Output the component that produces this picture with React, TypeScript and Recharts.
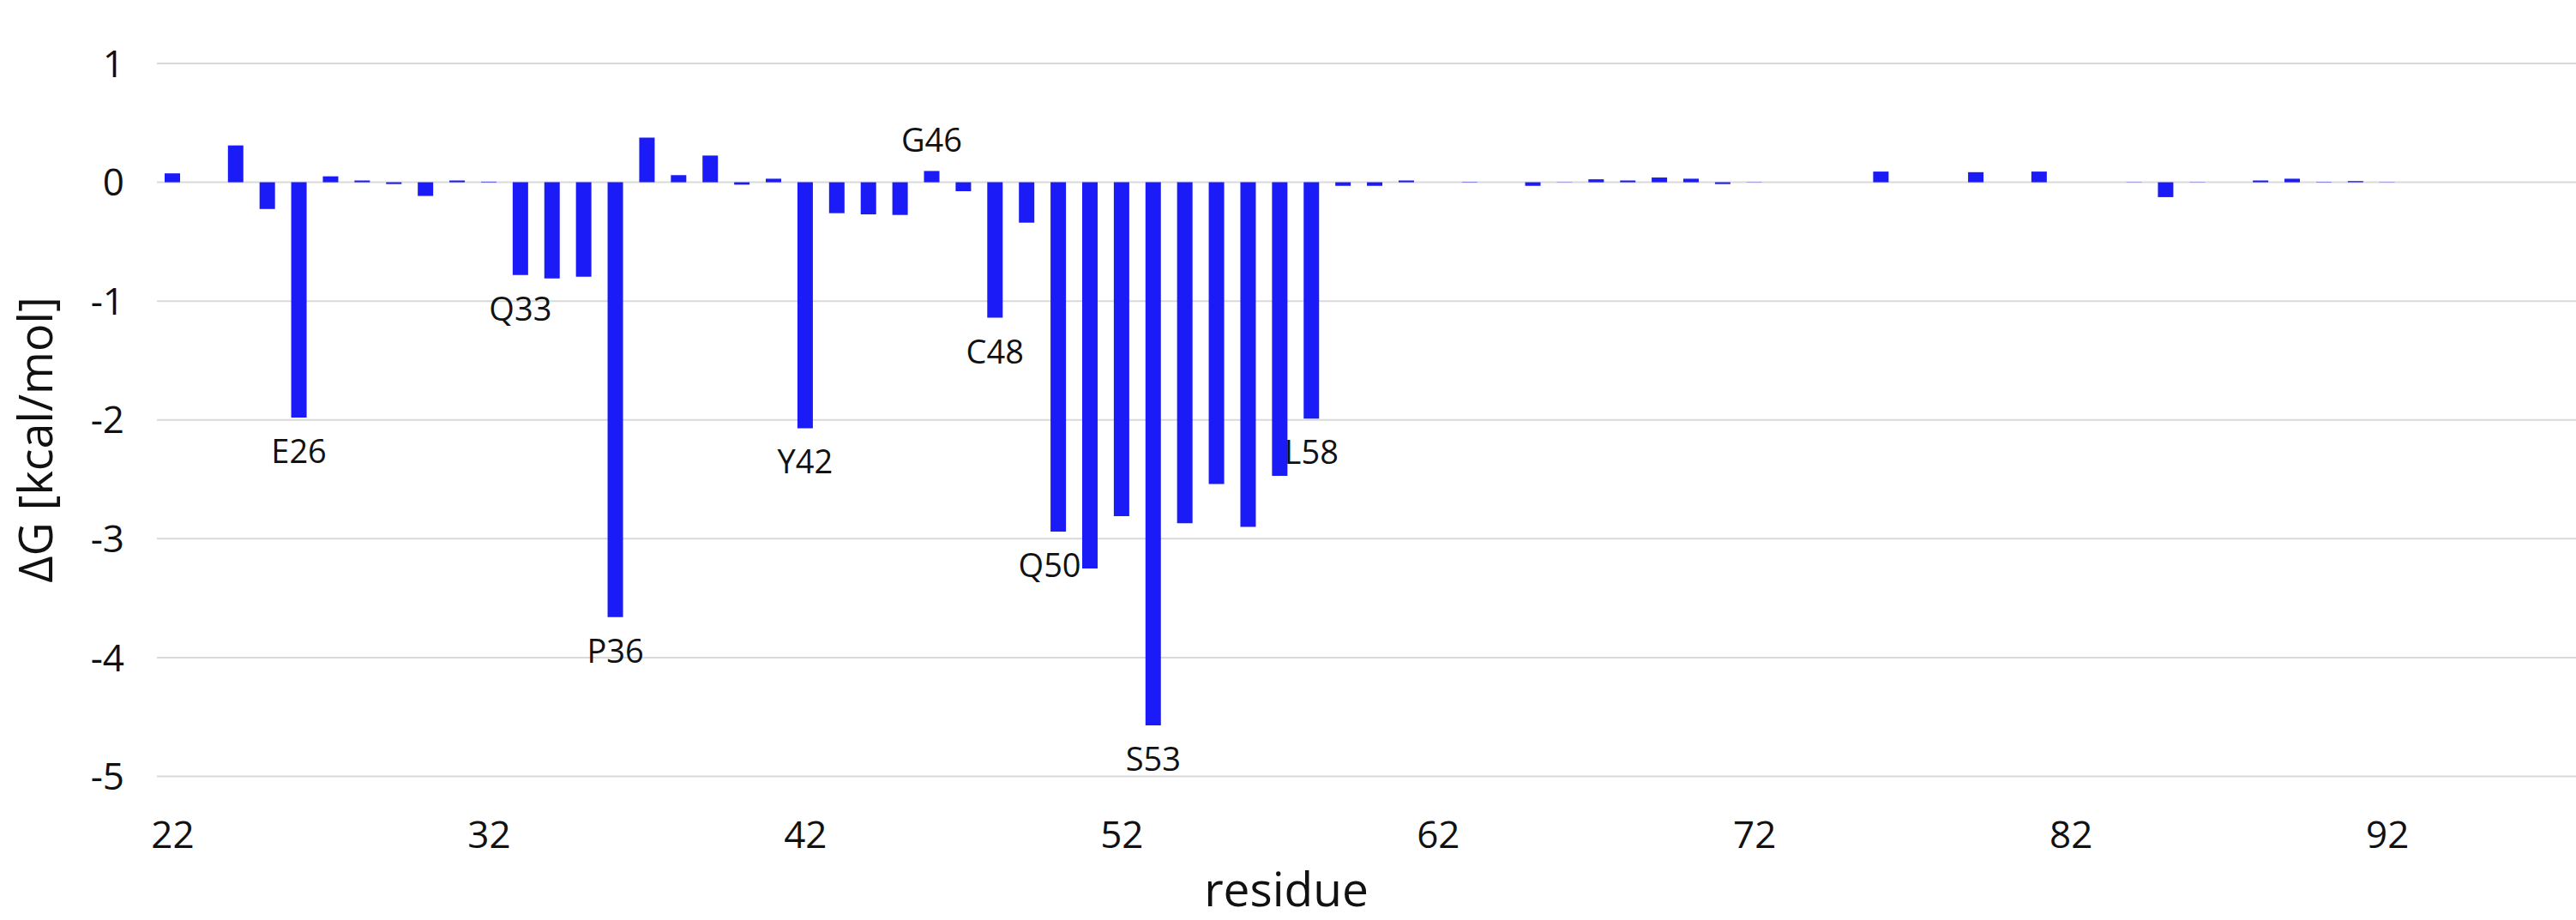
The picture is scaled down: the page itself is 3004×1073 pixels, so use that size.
import React from "react";
import { BarChart, Bar, XAxis, YAxis, CartesianGrid, LabelList, Label } from "recharts";

// residue numbers on the x axis
const RESIDUES = [
  22, 23, 24, 25, 26, 27, 28, 29, 30, 31, 32, 33, 34, 35, 36, 37, 38, 39, 40,
  41, 42, 43, 44, 45, 46, 47, 48, 49, 50, 51, 52, 53, 54, 55, 56, 57, 58, 59,
  60, 61, 62, 63, 64, 65, 66, 67, 68, 69, 70, 71, 72, 73, 74, 75, 76, 77, 78,
  79, 80, 81, 82, 83, 84, 85, 86, 87, 88, 89, 90, 91, 92, 93, 94, 95, 96, 97,
  98,
];

// ΔG per residue, kcal/mol
const DELTA_G = [
  0.075, 0, 0.31, -0.225, -1.98, 0.05, 0.015, -0.015, -0.115, 0.015, 0.005,
  -0.78, -0.81, -0.795, -3.66, 0.375, 0.06, 0.225, -0.02, 0.03,
  -2.07, -0.26, -0.27, -0.275, 0.095, -0.075, -1.14, -0.34, -2.94, -3.25,
  -2.81, -4.57, -2.87, -2.54, -2.9, -2.47, -1.99, -0.03, -0.03, 0.015,
  0, 0.003, 0, -0.03, 0.002, 0.025, 0.015, 0.04, 0.03, -0.015,
  0.002, 0, 0, 0, 0.09, 0, 0, 0.085, 0, 0.09,
  0, 0, 0.002, -0.125, 0.002, 0, 0.015, 0.03, 0.003, 0.01,
  0.002, 0, 0, 0, 0, 0, 0,
];

// labelled hot-spot residues
const HOTSPOTS = ["E26", "Q33", "P36", "Y42", "G46", "C48", "Q50", "S53", "L58"];

const Y_TICKS = [-5, -4, -3, -2, -1, 0, 1];

const data = RESIDUES.map((r, i) => ({
  residue: r,
  dg: DELTA_G[i],
  tag: HOTSPOTS.find((h) => Number(h.slice(1)) === r) || "",
}));

const FONT = "'Open Sans', 'Noto Sans', sans-serif";

const renderTag = (props: any) => {
  const { value } = props;
  if (!value) return null;
  const vb = props.viewBox || props;
  const { x, y, width, height } = vb;
  const row = data.find((d) => d.tag === value);
  const v = row ? row.dg : 0;
  const cx = x + width / 2 + (value === "Q50" ? -10 : 0);
  const ty = v >= 0 ? Math.min(y, y + height) - 22 : Math.max(y, y + height) + 53;
  return (
    <text x={cx} y={ty} textAnchor="middle" fontSize={38} fontFamily={FONT} fill="#111">
      {value}
    </text>
  );
};

export default function App() {
  return (
    <div
      style={{
        position: "absolute",
        left: 0,
        top: 0,
        width: 3004,
        height: 1073,
        overflow: "hidden",
        background: "#fff",
      }}
    >
      <BarChart
        width={3030}
        height={1073}
        data={data}
        margin={{ top: 74, right: 6, bottom: 0, left: 0 }}
        barSize={18}
      >
        <CartesianGrid vertical={false} stroke="#d9d9d9" strokeWidth={2} />
        <XAxis
          dataKey="residue"
          interval={9}
          height={167.5}
          axisLine={false}
          tickLine={false}
          tickSize={0}
          tickMargin={52}
          tick={{ fontSize: 44, fill: "#111", fontFamily: FONT }}
        >
          <Label
            content={() => (
              <text
                x={1500}
                y={1057}
                textAnchor="middle"
                fontSize={55}
                fontFamily={FONT}
                fill="#111"
              >
                residue
              </text>
            )}
          />
        </XAxis>
        <YAxis
          width={183}
          domain={[-5, 1]}
          ticks={Y_TICKS}
          interval={0}
          axisLine={false}
          tickLine={false}
          tickSize={0}
          tickMargin={38}
          tick={{ fontSize: 44, fill: "#111", fontFamily: FONT }}
        >
          <Label
            content={() => (
              <text
                x={0}
                y={0}
                transform="translate(40, 513) rotate(-90)"
                textAnchor="middle"
                dominantBaseline="central"
                fontSize={54}
                fontFamily={FONT}
                fill="#111"
              >
                ΔG [kcal/mol]
              </text>
            )}
          />
        </YAxis>
        <Bar dataKey="dg" fill="#1b1bf7" isAnimationActive={false}>
          <LabelList dataKey="tag" content={renderTag} />
        </Bar>
      </BarChart>
    </div>
  );
}
